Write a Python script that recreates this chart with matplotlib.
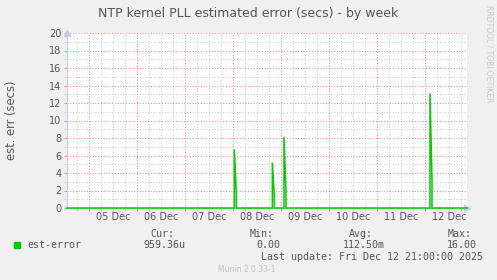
import matplotlib
matplotlib.use("Agg")
import matplotlib.pyplot as plt
import matplotlib.dates as mdates
import matplotlib.transforms as mtransforms
from datetime import datetime, timedelta

# data
t_start = datetime(2025, 12, 4, 13, 0)
t_end = datetime(2025, 12, 12, 21, 0)
spike_times = [datetime(2025, 12, 8, 0, 40), datetime(2025, 12, 8, 19, 40),
               datetime(2025, 12, 9, 1, 30), datetime(2025, 12, 12, 2, 30)]
spike_peaks = [6.7, 5.2, 8.1, 13.1]
day_labels = ["05 Dec", "06 Dec", "07 Dec", "08 Dec", "09 Dec", "10 Dec", "11 Dec", "12 Dec"]
day_dates = [datetime(2025, 12, d) for d in range(5, 13)]
y_ticks = [0, 2, 4, 6, 8, 10, 12, 14, 16, 18, 20]
y_minor = [1, 3, 5, 7, 9, 11, 13, 15, 17, 19]
legend_name = "est-error"
cur_val, min_val, avg_val, max_val = "959.36u", "0.00", "112.50m", "16.00"

# build the line from breakpoints
xs = [t_start]
ys = [0.0]
for t, p in zip(spike_times, spike_peaks):
    xs += [t, t, t + timedelta(minutes=60), t + timedelta(minutes=60)]
    ys += [0.0, p, p * 0.25, 0.0]
xs.append(t_end)
ys.append(0.0)

W, H = 497, 280
fig = plt.figure(figsize=(W / 100, H / 100), dpi=100)
fig.patch.set_facecolor("#f0f0f0")
ax = fig.add_axes([67 / W, 72 / H, 400 / W, 175 / H])
ax.set_facecolor("white")

green = "#00cc00"
ax.plot(xs, ys, color=green, lw=1.1, solid_joinstyle="miter", zorder=5, clip_on=False)

ax.set_xlim(t_start, t_end)
ax.set_ylim(0, 20)

red = "#f09090"
grey = "#d0d0d0"
ax.xaxis.set_major_locator(mdates.DayLocator())
ax.xaxis.set_minor_locator(mdates.HourLocator(byhour=[6, 12, 18]))
ax.xaxis.set_major_formatter(plt.NullFormatter())
ax.set_yticks(y_ticks)
ax.set_yticks(y_minor, minor=True)
ax.grid(which="minor", color=grey, ls=(0, (1, 1.5)), lw=0.8)
ax.grid(which="major", color=red, ls=(0, (1, 1.5)), lw=0.8)
ax.set_axisbelow(True)
ax.tick_params(which="major", length=2, width=0.72, color=red, labelsize=7,
               labelcolor="#555555", pad=2)
ax.tick_params(which="minor", length=2, width=0.72, color=grey)

for s in ["top", "right"]:
    ax.spines[s].set_visible(False)
for s in ["left", "bottom"]:
    ax.spines[s].set_color("#c8c8f0")
    ax.spines[s].set_linewidth(0.8)
ax.plot(1.0, 0, ">", color="#c8c8f0", ms=4, transform=ax.transAxes, clip_on=False)
ax.plot(0, 1.0, "^", color="#c8c8f0", ms=4, transform=ax.transAxes, clip_on=False)

trans = mtransforms.blended_transform_factory(ax.transData, ax.transAxes)
for d, lab in zip(day_dates, day_labels):
    ax.text(d + timedelta(hours=12), -0.05, lab, transform=trans, ha="center", va="center",
            fontsize=7, color="#555555")

fig.text(0.5, 1 - 13 / H, "NTP kernel PLL estimated error (secs) - by week",
         ha="center", va="center", fontsize=9, color="#555555")
fig.text(12 / W, 1 - 120 / H, "est. err (secs)", rotation=90, ha="center", va="center",
         fontsize=8.3, color="#555555")
fig.text(489 / W, 1 - 5 / H, "RRDTOOL / TOBI OETIKER", rotation=270, ha="center", va="top",
         fontsize=5.5, color="#c8c8c8")

mono = dict(family="DejaVu Sans Mono", fontsize=7.2, color="#555555", va="center")


def ftext(x, y, s, **kw):
    opts = dict(mono)
    opts.update(kw)
    fig.text(x / W, 1 - y / H, s, **opts)


fig.patches.append(plt.Rectangle((14 / W, 1 - 248 / H), 6 / W, 6 / H, color=green,
                                 transform=fig.transFigure, figure=fig))
ftext(27, 245.5, legend_name)
ftext(150, 234, "Cur:")
ftext(143, 245.5, cur_val)
ftext(250, 234, "Min:")
ftext(256, 245.5, min_val)
ftext(349, 234, "Avg:")
ftext(343, 245.5, avg_val)
ftext(448, 234, "Max:")
ftext(447, 245.5, max_val)
ftext(261, 257, "Last update: Fri Dec 12 21:00:00 2025")
fig.text(218 / W, 1 - 269 / H, "Munin 2.0.33-1", ha="left", va="center",
         fontsize=5.5, color="#c0c0c0")

fig.savefig("out.png", dpi=100, facecolor=fig.get_facecolor())
